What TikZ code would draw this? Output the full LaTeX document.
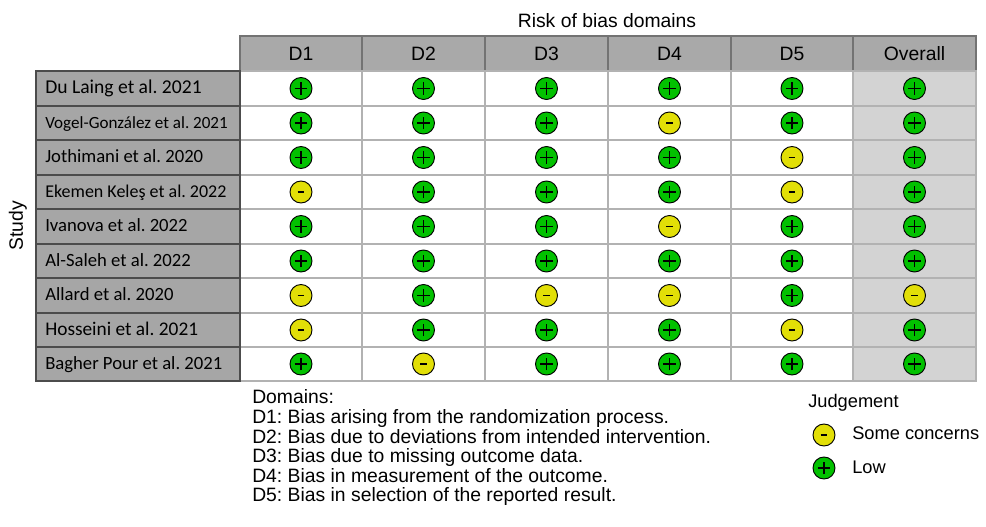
\documentclass[tikz,border=0pt]{standalone}
\usepackage{fontspec}
\setmainfont{Liberation Sans}
\newfontfamily\calib{Carlito}
\frenchspacing
\definecolor{hdr}{HTML}{A9A9A9}
\definecolor{lab}{HTML}{A6A6A6}
\definecolor{ovr}{HTML}{D3D3D3}
\definecolor{lowc}{HTML}{02C100}
\definecolor{somec}{HTML}{E2DF07}
\begin{document}
\begin{tikzpicture}[x=0.75pt,y=-0.75pt,
  hdrbox/.style={draw=black!55,fill=hdr,line width=1.2pt},
  labbox/.style={draw=black!70,fill=lab,line width=1.3pt},
  cellbox/.style={draw=black!30,line width=0.8pt},
  dot/.style={circle,draw=black,line width=0.7pt,minimum size=16.5pt,inner sep=0pt},
  lowdot/.style={dot,fill=lowc,path picture={\draw[line width=1.1pt] ([xshift=-4.8pt]path picture bounding box.center) -- ([xshift=4.8pt]path picture bounding box.center) ([yshift=-4.8pt]path picture bounding box.center) -- ([yshift=4.8pt]path picture bounding box.center);}},
  somedot/.style={dot,fill=somec,path picture={\draw[line width=1.1pt] ([xshift=-2.6pt]path picture bounding box.center) -- ([xshift=2.6pt]path picture bounding box.center);}},
  big/.style={font=\fontsize{14.5}{16}\selectfont},
  txt/.style={big,anchor=base west,inner sep=0pt},
  jtxt/.style={font=\fontsize{13.7}{15}\selectfont,anchor=base west,inner sep=0pt}]
\useasboundingbox (0,0) rectangle (986,527);
\node[big] (title) at (607,21) {Risk of bias domains};
\node[big,rotate=90] (study) at (18,226) {Study};
\fill[ovr] (853,71) rectangle (976,381);
\def\xs{{240,362,485,608,731,853,976}}
\foreach \n [count=\i from 0] in {D1,D2,D3,D4,D5,Overall}{
  \pgfmathsetmacro\xa{\xs[\i]}\pgfmathsetmacro\xb{\xs[\i+1]}
  \draw[hdrbox] (\xa,36) rectangle (\xb,71);
  \node[big] (h\i) at ({(\xa+\xb)/2},53.5) {\n};
}
\def\ys{{71,106,140,175,209,244,278,313,347,381}}
\foreach \lab/\fs/\r [count=\j from 0] in {{Du Laing et al. 2021}/14.7/{1,1,1,1,1,1},
  {Vogel-González et al. 2021}/12.8/{1,1,1,0,1,1},
  {Jothimani et al. 2020}/14/{1,1,1,1,0,1},
  {Ekemen Keleş et al. 2022}/13.5/{0,1,1,1,0,1},
  {Ivanova et al. 2022}/14/{1,1,1,0,1,1},
  {Al-Saleh et al. 2022}/14/{1,1,1,1,1,1},
  {Allard et al. 2020}/14/{0,1,0,0,1,0},
  {Hosseini et al. 2021}/14.5/{0,1,1,1,0,1},
  {Bagher Pour et al. 2021}/14/{1,0,1,1,1,1}}{
  \pgfmathsetmacro\ya{\ys[\j]}\pgfmathsetmacro\yb{\ys[\j+1]}
  \pgfmathsetmacro\yc{(\ya+\yb)/2}
  \foreach \i in {0,...,5}{
    \pgfmathsetmacro\xa{\xs[\i]}\pgfmathsetmacro\xb{\xs[\i+1]}
    \draw[cellbox] (\xa,\ya) rectangle (\xb,\yb);}
  \draw[labbox] (36,\ya) rectangle (240,\yb);
  \node[anchor=base west,inner sep=0pt] (s\j) at (45,\yc+5.5) {\calib\fontsize{\fs}{\fs}\selectfont \lab};
  \foreach \v [count=\i from 0] in \r {
    \pgfmathsetmacro\xa{\xs[\i]}\pgfmathsetmacro\xb{\xs[\i+1]}
    \pgfmathsetmacro\xc{(\xa+\xb)/2}
    \ifnum\v=1 \node[lowdot] (c\j-\i) at (\xc,\yc) {};
    \else \node[somedot] (c\j-\i) at (\xc,\yc) {};\fi
  }
}
\node[txt] (dom) at (252,404) {Domains:};
\node[txt] (l1) at (252,423.5) {D1: Bias arising from the randomization process.};
\node[txt] (l2) at (252,443) {D2: Bias due to deviations from intended intervention.};
\node[txt] (l3) at (252,462.5) {D3: Bias due to missing outcome data.};
\node[txt] (l4) at (252,482) {D4: Bias in measurement of the outcome.};
\node[txt] (l5) at (252,501.5) {D5: Bias in selection of the reported result.};
\node[jtxt] (jud) at (808,407) {Judgement};
\node[somedot] (js) at (824,435) {};
\node[jtxt] (jst) at (852,440) {Some concerns};
\node[lowdot] (jl) at (824,468) {};
\node[jtxt] (jlt) at (852,473) {Low};
\end{tikzpicture}
\end{document}
